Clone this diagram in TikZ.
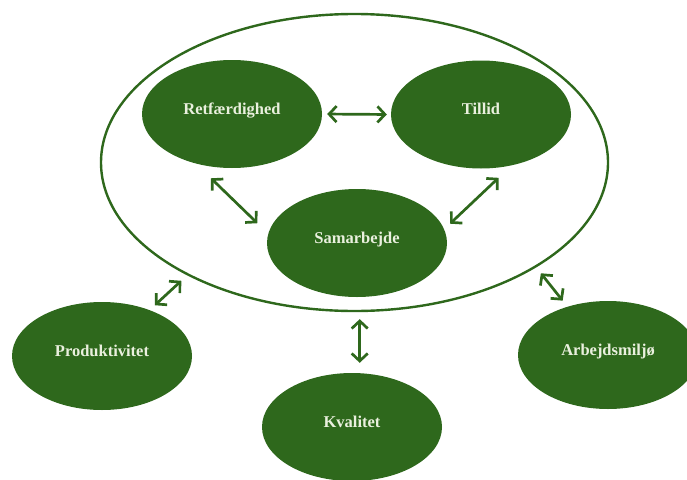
\documentclass[tikz,border=0pt]{standalone}
\usepackage{fontspec}
\setmainfont{Liberation Serif}
\usetikzlibrary{shapes.geometric,arrows.meta}

\definecolor{leafgreen}{RGB}{46,104,28}
\definecolor{paletext}{RGB}{234,240,222}

\tikzset{
  blob/.style={ellipse, fill=leafgreen, inner sep=0pt,
    minimum width=180pt, minimum height=108pt,
    text height=7pt, text depth=7pt,
    text=paletext, font=\bfseries\fontsize{16.5}{18}\selectfont},
  frame/.style={ellipse, draw=leafgreen, line width=2.4pt,
    minimum width=507pt, minimum height=297pt, inner sep=0pt},
  link/.style={draw=leafgreen, line width=2.7pt,
    {Straight Barb[length=7.5pt,width=16pt]}-{Straight Barb[length=7.5pt,width=16pt]}}
}

\begin{document}
\begin{tikzpicture}[x=1pt,y=-1pt]
\useasboundingbox (0,0) rectangle (687,479);

% enclosing ring around the core values
\node[frame] (outer) at (354.5,162.5) {};

% core values
\node[blob] (retf)   at (232,114)   {Retfærdighed};
\node[blob] (tillid) at (481,114.5) {Tillid};
\node[blob] (samar)  at (357,243)   {Samarbejde};

% outcomes
\node[blob] (prod)   at (102,356)   {Produktivitet};
\node[blob] (kval)   at (352,427)   {Kvalitet};
\node[blob] (arbejd) at (608,355)   {Arbejdsmiljø};

% links between the core values
\draw[link, shorten <=5pt, shorten >=4pt] (retf.east) -- (tillid.west);
\draw[link, shorten <=21pt, shorten >=15pt] (retf.-126) -- (samar.174);
\draw[link, shorten <=18pt, shorten >=8pt] (tillid.-59) -- (samar.9);

% links from the ring to the outcomes
\draw[link, shorten <=7pt, shorten >=8pt] (prod.44) -- (outer.-146);
\draw[link, shorten <=7pt, shorten >=10pt] (outer.-88) -- (outer.-88 |- kval.north);
\draw[link, shorten <=7.5pt, shorten >=7.6pt] (outer.-30.2) -- (arbejd.130.5);
\end{tikzpicture}
\end{document}
